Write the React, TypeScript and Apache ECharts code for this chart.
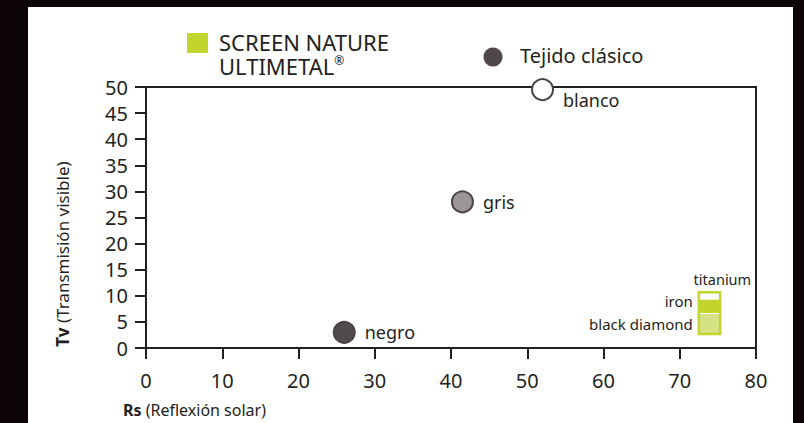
import React, { useEffect, useRef } from 'react';
import * as echarts from 'echarts';

const pointNames = ['negro', 'gris', 'blanco'];
const rsValues = [26, 41.5, 52];
const tvValues = [3, 28, 49.5];
const pointColors = ['#524a4c', '#9d9697', '#ffffff'];

const ultimetalNames = ['black diamond', 'iron', 'titanium'];
const ultimetalRsRange = [72.5, 75.3];
const ultimetalTvLow = [2.7, 6.7, 9.3];
const ultimetalTvHigh = [6.5, 9.3, 10.7];
const ultimetalColors = ['#d5e285', '#c2d52e', '#ffffff'];

const xMin = 0, xMax = 80, xStep = 10;
const yMin = 0, yMax = 50, yStep = 5;

const FONT = "'Noto Sans', sans-serif";
const DARK = '#231f20';
const GREEN = '#c2d52e';

export default function App() {
  const ref = useRef<HTMLDivElement>(null);
  useEffect(() => {
    if (!ref.current) return;
    const chart = echarts.init(ref.current, null, { renderer: 'svg' });
    const scatterData = pointNames.map((n, i) => ({
      name: n,
      value: [rsValues[i], tvValues[i]],
      itemStyle: { color: pointColors[i] },
      label: i === 2 ? { offset: [0, 10] } : undefined,
    }));
    const segData = ultimetalNames.map((n, i) => ({
      name: n,
      value: [ultimetalRsRange[0], ultimetalRsRange[1], ultimetalTvLow[i], ultimetalTvHigh[i], i],
    }));
    const frameData = [[ultimetalRsRange[0], ultimetalRsRange[1], Math.min(...ultimetalTvLow), Math.max(...ultimetalTvHigh)]];
    chart.setOption({
      animation: false,
      textStyle: { fontFamily: FONT },
      grid: { left: 146, right: 48, top: 87, bottom: 75, show: true, borderColor: DARK, borderWidth: 2, backgroundColor: 'transparent' },
      xAxis: {
        type: 'value', min: xMin, max: xMax, interval: xStep,
        axisLine: { lineStyle: { color: DARK, width: 2 } },
        axisTick: { show: true, length: 11, lineStyle: { color: DARK, width: 2 } },
        axisLabel: { fontSize: 20, color: DARK, margin: 22, fontFamily: FONT },
        splitLine: { show: false },
      },
      yAxis: {
        type: 'value', min: yMin, max: yMax, interval: yStep,
        axisLine: { show: true, lineStyle: { color: DARK, width: 2 } },
        axisTick: { show: true, length: 11, lineStyle: { color: DARK, width: 2 } },
        axisLabel: { fontSize: 20, color: DARK, margin: 18, fontFamily: FONT },
        splitLine: { show: false },
      },
      series: [
        {
          type: 'scatter',
          name: 'Tejido clásico',
          symbolSize: 21,
          data: scatterData,
          itemStyle: { borderColor: '#4a4344', borderWidth: 2, opacity: 1 },
          label: { show: true, position: 'right', distance: 9, formatter: '{b}', fontSize: 18, color: DARK, fontFamily: FONT },
          z: 5,
        },
        {
          type: 'custom',
          name: 'SCREEN NATURE ULTIMETAL®',
          data: segData,
          renderItem: (params: any, api: any) => {
            const x0 = api.value(0), x1 = api.value(1), lo = api.value(2), hi = api.value(3);
            const idx = api.value(4);
            const p0 = api.coord([x0, hi]);
            const p1 = api.coord([x1, lo]);
            const children: any[] = [
              { type: 'rect', shape: { x: p0[0], y: p0[1], width: p1[0] - p0[0], height: p1[1] - p0[1] }, style: { fill: ultimetalColors[idx] } },
            ];
            const name = ultimetalNames[idx];
            if (idx === 2) {
              children.push({ type: 'text', style: { x: p1[0] + 31, y: p0[1] - 13, text: name, align: 'right', verticalAlign: 'middle', fontSize: 14.5, fill: DARK, fontFamily: FONT } });
            } else {
              const cy = (p0[1] + p1[1]) / 2 - (idx === 1 ? 5 : 0);
              children.push({ type: 'text', style: { x: p0[0] - 6, y: cy, text: name, align: 'right', verticalAlign: 'middle', fontSize: 15, fill: DARK, fontFamily: FONT } });
            }
            return { type: 'group', children };
          },
          z: 3,
        },
        {
          type: 'custom',
          name: 'frame',
          data: frameData,
          renderItem: (params: any, api: any) => {
            const p0 = api.coord([api.value(0), api.value(3)]);
            const p1 = api.coord([api.value(1), api.value(2)]);
            return { type: 'rect', shape: { x: p0[0], y: p0[1], width: p1[0] - p0[0], height: p1[1] - p0[1] }, style: { fill: 'none', stroke: GREEN, lineWidth: 2.5 } };
          },
          z: 4,
        },
      ],
      graphic: [
        { type: 'rect', shape: { x: 187, y: 33, width: 21, height: 20 }, style: { fill: GREEN } },
        { type: 'text', x: 219, y: 42, style: { text: 'SCREEN NATURE', fontSize: 22, lineHeight: 22, fontFamily: FONT, fill: DARK, verticalAlign: 'middle', align: 'left' } },
        {
          type: 'text', x: 219, y: 65.5,
          style: {
            text: 'ULTIMETAL{r|®}', fontSize: 22, lineHeight: 22, fontFamily: FONT, fill: DARK, verticalAlign: 'middle', align: 'left',
            rich: { r: { fontSize: 12, lineHeight: 22, verticalAlign: 'top', fontFamily: FONT, fill: DARK } },
          },
        },
        { type: 'circle', shape: { cx: 493, cy: 57, r: 9.5 }, style: { fill: '#4f4748' } },
        { type: 'text', x: 520, y: 55, style: { text: 'Tejido clásico', fontSize: 20, fontFamily: FONT, fill: DARK, verticalAlign: 'middle', align: 'left' } },
        {
          type: 'text', x: 123, y: 410,
          style: {
            text: '{b|Rs} (Reflexión solar)', fontSize: 16, fontFamily: FONT, fill: DARK, verticalAlign: 'middle', align: 'left',
            rich: { b: { fontWeight: 'bold', fontSize: 16, fontFamily: FONT, fill: DARK } },
          },
        },
        {
          type: 'text', x: 62, y: 254, rotation: Math.PI / 2,
          style: {
            text: '{b|Tv} (Transmisión visible)', fontSize: 17, fontFamily: FONT, fill: DARK, verticalAlign: 'middle', align: 'center',
            rich: { b: { fontWeight: 'bold', fontSize: 17, fontFamily: FONT, fill: DARK } },
          },
        },
      ],
    });
    return () => chart.dispose();
  }, []);
  return (
    <div style={{ position: 'fixed', left: 0, top: 0, width: 804, height: 423, background: '#0b0306' }}>
      <div style={{ position: 'absolute', left: 28, top: 7, width: 765, height: 416, background: '#ffffff' }} />
      <div ref={ref} style={{ position: 'absolute', left: 0, top: 0, width: 804, height: 423 }} />
    </div>
  );
}
